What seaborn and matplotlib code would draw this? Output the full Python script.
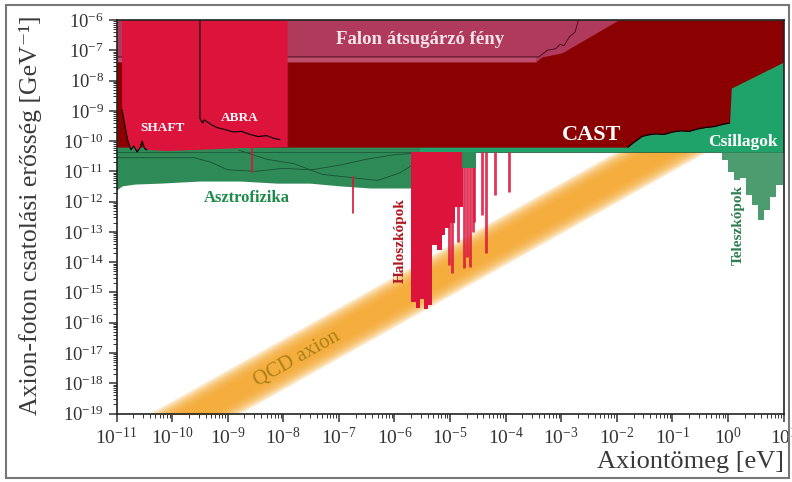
import numpy as np
import matplotlib
matplotlib.use('Agg')
import matplotlib.pyplot as plt
from matplotlib.ticker import LogLocator, NullFormatter
from matplotlib.patches import Rectangle
import seaborn as sns

# all values are log10 (mass in eV, coupling in GeV^-1)
# QCD axion band centre line (two end points)
qcd_m = np.array([-10.5, 0.5])
qcd_g = np.array([-19.93, -8.60])

# astrophysics (green) lower edge
astro_m = [-11.0, -10.9, -10.67, -10.22, -9.5, -8.78, -8.11, -7.52, -6.98, -6.44, -5.55]
astro_low = [-11.62, -11.48, -11.42, -11.39, -11.32, -11.32, -11.39, -11.39, -11.48, -11.55, -11.55]
tooth_m = [-4.78, -4.53]
tooth_low = [-10.89, -10.89]
strip_low = -10.36
# contour lines inside the astrophysics region
cont1_m = [-11.0, -9.6, -9.3, -9.0, -8.5, -8.0, -7.5, -7.0, -6.5, -6.0, -5.6]
cont1_g = [-10.55, -10.55, -10.7, -10.95, -11.0, -10.9, -10.95, -10.8, -10.6, -10.45, -10.4]
cont2_m = [-8.8, -8.3, -7.8, -7.3, -6.8, -6.3, -5.9, -5.6]
cont2_g = [-10.3, -10.6, -10.75, -11.1, -11.2, -11.3, -11.05, -10.7]

# CAST lower edge (stars region below it)
cast_m = [-11.0, -1.80, -1.70, -1.55, -1.45, -1.30, -1.15, -1.0, -0.85, -0.7, -0.55, -0.4, -0.25, -0.1, 0.03, 0.06, 1.0]
cast_low = [-10.2, -10.2, -10.05, -9.85, -9.80, -9.76, -9.78, -9.70, -9.66, -9.68, -9.60, -9.55, -9.52, -9.45, -9.40, -8.25, -7.39]

# light shining through wall (outer edge, lighter strip, inner edge)
lsw_m = [-11.0, -3.46, -3.35, -2.99, -1.97]
lsw_low = [-7.39, -7.39, -7.22, -7.09, -6.0]
lsw2_m = [-11.0, -3.40, -3.25, -3.10, -3.02, -2.95, -2.85, -2.75, -2.69]
lsw2_low = [-7.22, -7.22, -7.0, -6.95, -6.80, -6.85, -6.55, -6.4, -6.0]

# SHAFT / ABRA region
shaft_m = [-10.90, -10.90, -10.85, -10.80, -10.74, -10.69, -10.63, -10.58, -10.54, -10.49, -10.45, -10.1, -9.5, -8.78, -7.92, -7.92]
shaft_low = [-6.0, -8.97, -9.47, -9.96, -10.29, -10.16, -10.36, -10.23, -10.0, -10.26, -10.29, -10.33, -10.29, -10.23, -10.2, -6.0]
abra_m = [-9.5, -9.5, -9.45, -9.42, -9.3, -9.2, -9.05, -8.9, -8.75, -8.6, -8.45, -8.3, -8.15, -8.06]
abra_g = [-6.0, -9.25, -9.40, -9.30, -9.45, -9.55, -9.62, -9.70, -9.68, -9.78, -9.85, -9.82, -9.92, -9.95]
abra_spike = (-8.56, -10.2, -11.02)
astro_spike = (-6.74, -11.2, -12.38)

# haloscopes
halo_m = [-5.70, -5.62, -5.54, -5.46, -5.40, -5.33, -5.24, -5.15, -5.09, -5.00, -4.91, -4.76]
halo_low = [-15.32, -15.50, -15.22, -15.55, -15.40, -13.43, -13.60, -13.10, -12.87, -12.71, -12.18, -12.18]
spike_m = [-5.02, -4.97, -4.86, -4.75, -4.70, -4.64, -4.59, -4.57, -4.43, -4.35, -4.19, -3.94]
spike_low = [-14.09, -14.36, -13.33, -14.19, -13.83, -14.16, -13.00, -12.67, -12.44, -13.70, -11.78, -11.68]

# telescopes
tele_m = [-0.11, 0.0, 0.11, 0.21, 0.32, 0.43, 0.54, 0.65, 0.75, 0.86, 0.99]
tele_low = [-10.63, -11.02, -11.29, -11.22, -11.78, -12.11, -12.61, -12.28, -11.85, -11.45, -11.45]


def P(a):
    return np.power(10.0, np.asarray(a, dtype=float))


sns.set_style('ticks')
plt.rcParams['font.family'] = ['Liberation Serif', 'DejaVu Serif']
plt.rcParams['mathtext.fontset'] = 'cm'

fig = plt.figure(figsize=(7.92, 4.82), dpi=100)
ax = fig.add_axes([0.1471, 0.1421, 0.8422, 0.8164])
ax.set_xscale('log')
ax.set_yscale('log')

TOP = 1e-6

# QCD band, soft edges
for d in np.linspace(0.85, 0.3, 14):
    ax.fill_between(P(qcd_m), P(qcd_g - d), P(qcd_g + d), color='#F5A82E', alpha=0.16, lw=0, zorder=1)

# stars (light green) and astrophysics (darker green)
ax.fill_between(P([-11, 1]), P([strip_low, strip_low]), TOP, color='#1FA36B', lw=0, zorder=2)
ax.fill_between(P(astro_m), P(astro_low), P(-10.2), color='#2E8B57', lw=0, zorder=2.5)
ax.plot(P([-11, 1]), P([strip_low, strip_low]), color='#1d5c3a', lw=0.6, zorder=2.6)
for cm_, cg_ in ((cont1_m, cont1_g), (cont2_m, cont2_g)):
    sns.lineplot(x=P(cm_), y=P(cg_), sort=False, estimator=None,
                 color='#1d4f33', lw=0.6, ax=ax, zorder=2.6)

# CAST
ax.fill_between(P(cast_m), P(cast_low), TOP, color='#8B0000', lw=0, zorder=3)
sns.lineplot(x=P(cast_m[1:15]), y=P(cast_low[1:15]), sort=False, estimator=None,
             color='black', lw=0.8, ax=ax, zorder=3.1)

# light shining through wall
ax.fill_between(P(lsw_m), P(lsw_low), TOP, color='#B03A5C', lw=0, zorder=4)
ax.fill_between(P(lsw_m[:2]), P(lsw_low[:2]), P(lsw2_low[:2]), color='#BE4C6B', lw=0, zorder=4.05)
sns.lineplot(x=P(lsw2_m), y=P(lsw2_low), sort=False, estimator=None,
             color='#4a1020', lw=0.7, ax=ax, zorder=4.2)

# SHAFT / ABRA
ax.fill(P(shaft_m), P(shaft_low), color='#DC143C', lw=0, zorder=5)
sns.lineplot(x=P(shaft_m[1:11]), y=P(shaft_low[1:11]), sort=False, estimator=None,
             color='black', lw=0.8, ax=ax, zorder=5.1)
sns.lineplot(x=P(abra_m), y=P(abra_g), sort=False, estimator=None,
             color='black', lw=0.8, ax=ax, zorder=5.1)
for sm, s0, s1 in (abra_spike, astro_spike):
    ax.plot(P([sm, sm]), P([s0, s1]), color='#DC143C', lw=1.2, zorder=5)

# haloscopes
ax.fill_between(P(halo_m), P(halo_low), P(strip_low), step='post', color='#DC143C', lw=0, zorder=5)
ax.vlines(P(spike_m), P(spike_low), P(strip_low), color='#DC143C', lw=2.0, alpha=0.85, zorder=5)
ax.fill_between(P(tooth_m), P(tooth_low), P(strip_low), color='#2E8B57', lw=0, zorder=5.2)

# telescopes
ax.fill_between(P(tele_m), P(tele_low), P(strip_low), step='post', color='#2E8B57', alpha=0.85, lw=0, zorder=5)

# axes
ax.set_xlim(1e-11, 1e1)
ax.set_ylim(1e-19, 1e-6)
ax.xaxis.set_major_locator(LogLocator(base=10, numticks=20))
ax.yaxis.set_major_locator(LogLocator(base=10, numticks=20))
ax.xaxis.set_minor_locator(LogLocator(base=10, subs=np.arange(2, 10), numticks=200))
ax.yaxis.set_minor_locator(LogLocator(base=10, subs=np.arange(2, 10), numticks=200))
ax.xaxis.set_minor_formatter(NullFormatter())
ax.yaxis.set_minor_formatter(NullFormatter())
ax.tick_params(which='major', direction='out', length=6, width=1.1, colors='#333333')
ax.tick_params(axis='x', which='major', labelsize=14, pad=4)
ax.tick_params(axis='y', which='major', labelsize=13.5, pad=3)
ax.tick_params(which='minor', direction='out', length=3, width=0.7, colors='#333333')
for s in ax.spines.values():
    s.set_color('#222222')
    s.set_linewidth(1.2)
    s.set_zorder(10)

ax.set_ylabel('Axion-foton csatolási erősség [GeV⁻¹]', fontsize=18.5, color='#3a3a3a')
ax.yaxis.set_label_coords(-0.112, 0.505)
ax.set_xlabel('Axiontömeg [eV]', fontsize=19, color='#3a3a3a', loc='right')
ax.xaxis.set_label_coords(1.0, -0.095)

# region labels
bold = dict(fontweight='bold', zorder=8, ha='center', va='center')
ax.text(P(-10.18), P(-9.57), 'SHAFT', color='white', fontsize=9.5, **bold)
ax.text(P(-8.78), P(-9.24), 'ABRA', color='white', fontsize=9.5, **bold)
ax.text(P(-5.54), P(-6.66), 'Falon átsugárzó fény', color='#F6E4EA', fontsize=13.5, **bold)
ax.text(P(-2.45), P(-9.80), 'CAST', color='white', fontsize=16, **bold)
ax.text(P(0.27), P(-10.03), 'Csillagok', color='white', fontsize=12.5, **bold)
ax.text(P(-8.65), P(-11.88), 'Asztrofizika', color='#1E8B4B', fontsize=12, **bold)
ax.text(P(-5.90), P(-13.30), 'Haloszkópok', color='#B0171F', fontsize=11, rotation=90, **bold)
ax.text(P(0.18), P(-12.77), 'Teleszkópok', color='#2E7D4F', fontsize=11, rotation=90, **bold)
ax.text(P(-7.75), P(-17.2), 'QCD axion', color='#9C7A10', fontsize=15, rotation=29.5,
        ha='center', va='center', alpha=0.85, zorder=8)

# outer frame
fig.patches.append(Rectangle((6 / 792, 4 / 482), 783 / 792, 473 / 482, transform=fig.transFigure,
                             fill=False, edgecolor='#777777', lw=1.5))

fig.savefig('out.png', dpi=100)
